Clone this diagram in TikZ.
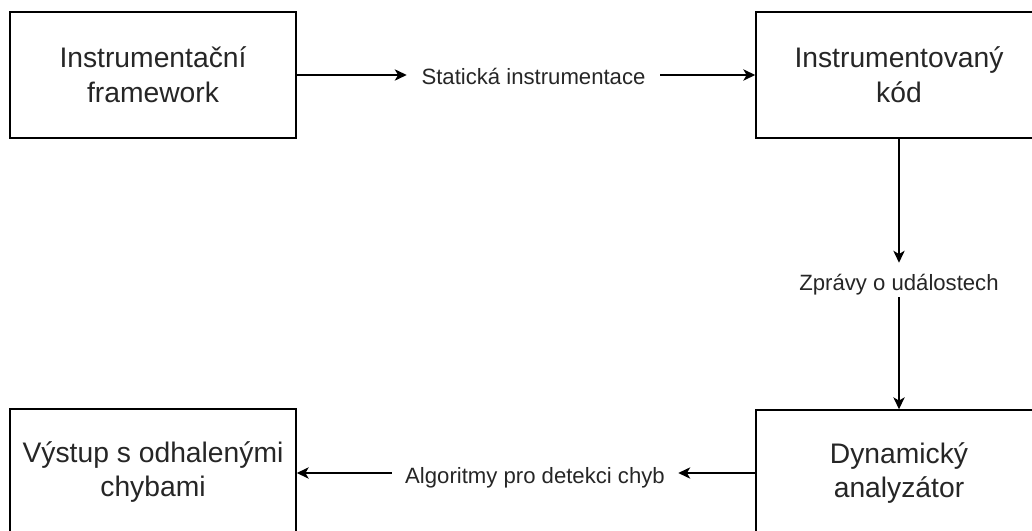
\documentclass[tikz,border=0pt]{standalone}
\usepackage{fontspec}
\setmainfont{Liberation Sans}
\usetikzlibrary{arrows.meta}
\definecolor{txt}{HTML}{262626}
\tikzset{
  box/.style={draw=black, line width=1.1pt, fill=white, inner sep=0pt,
    minimum width=214.5pt, minimum height=94.5pt, align=center, text=txt,
    font=\fontsize{21.2pt}{26.2pt}\selectfont},
  lab/.style={inner sep=0pt, text=txt, text height=16pt, text depth=1pt,
    font=\fontsize{16.6pt}{20pt}\selectfont},
  conn/.style={draw=black, line width=1.1pt, -{Stealth[length=9pt, width=8.5pt, inset=2.5pt]}}
}
\begin{document}
\begin{tikzpicture}[x=0.75pt, y=-0.75pt]
\clip (0,0) rectangle (1032,531);
\fill[white] (0,0) rectangle (1032,531);
\node[box] (b1) at (153,75) {Instrumentační\\framework};
\node[box] (b2) at (899,75) {Instrumentovaný\\kód};
\node[box] (b3) at (153,472) {Výstup s odhalenými\\chybami};
\node[box] (b4) at (899,473) {Dynamický\\analyzátor};
\node[lab, minimum width=189.75pt] (l1) at (533.5,75) {Statická instrumentace};
\node[lab, minimum height=25.5pt] (l2) at (899,280) {Zprávy o událostech};
\node[lab, minimum width=214.5pt] (l3) at (535,473) {Algoritmy pro detekci chyb};
\draw[conn] (b1.east) -- (l1.west);
\draw[conn] (l1.east) -- (b2.west);
\draw[conn] (b2.south) -- (l2.north);
\draw[conn] (l2.south) -- (b4.north);
\draw[conn] (b4.west |- l3.east) -- (l3.east);
\draw[conn] (l3.west) -- (b3.east |- l3.west);
\end{tikzpicture}
\end{document}
